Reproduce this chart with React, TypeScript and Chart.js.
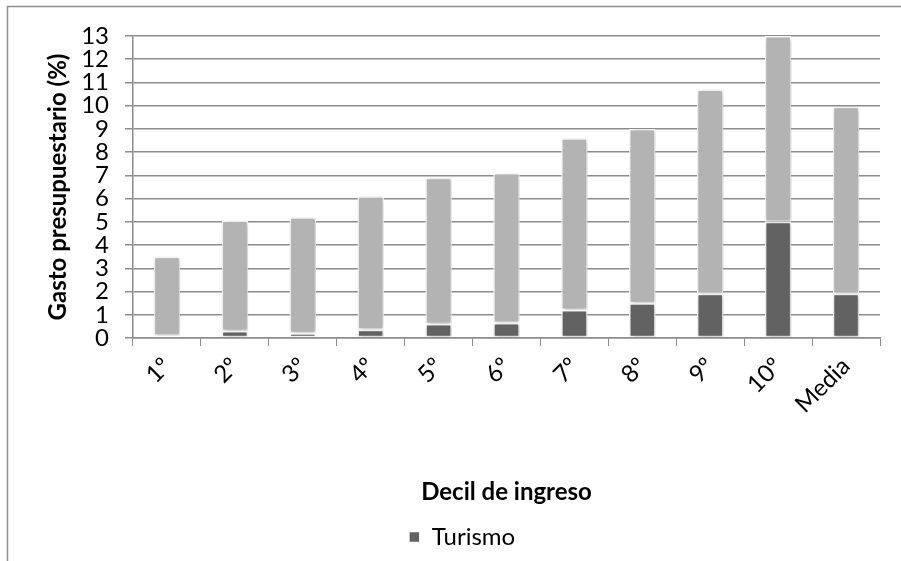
import React, { useEffect, useRef } from "react";
import { Chart, registerables } from "chart.js";

Chart.register(...registerables);

const categories = ["1º", "2º", "3º", "4º", "5º", "6º", "7º", "8º", "9º", "10º", "Media"];
const turismo = [0.1, 0.3, 0.2, 0.35, 0.6, 0.65, 1.2, 1.5, 1.9, 5.0, 1.9];
const resto = [3.4, 4.75, 5.0, 5.75, 6.3, 6.45, 7.4, 7.5, 8.8, 8.0, 8.05];
const yTicks = [0, 1, 2, 3, 4, 5, 6, 7, 8, 9, 10, 11, 12, 13];

const FONT = "Lato, 'Open Sans', sans-serif";

const framePlugin = {
  id: "frame",
  beforeDraw(chart: any) {
    const ctx = chart.ctx;
    ctx.save();
    ctx.fillStyle = "#fff";
    ctx.fillRect(0, 0, chart.width, chart.height);
    ctx.strokeStyle = "#8e8e8e";
    ctx.lineWidth = 1.5;
    ctx.beginPath();
    ctx.moveTo(7.5, chart.height + 2);
    ctx.lineTo(7.5, 6.5);
    ctx.lineTo(chart.width + 2, 6.5);
    ctx.stroke();
    ctx.restore();
  },
};

const shadowPlugin = {
  id: "barShadow",
  beforeDatasetsDraw(chart: any) {
    const ctx = chart.ctx;
    ctx.save();
    ctx.shadowColor = "rgba(0,0,0,0.28)";
    ctx.shadowBlur = 5;
    ctx.shadowOffsetX = 1;
    ctx.shadowOffsetY = 1;
  },
  afterDatasetsDraw(chart: any) {
    chart.ctx.restore();
  },
};

export default function App() {
  const ref = useRef<HTMLCanvasElement | null>(null);

  useEffect(() => {
    if (!ref.current) return;
    const chart = new Chart(ref.current, {
      type: "bar",
      data: {
        labels: categories,
        datasets: [
          {
            label: "Turismo",
            data: turismo,
            backgroundColor: "#626262",
            borderColor: "#ffffff",
            borderWidth: 1.5,
            borderSkipped: false,
            categoryPercentage: 1,
            barPercentage: 0.39,
          },
          {
            label: "Resto",
            data: resto,
            backgroundColor: "#b3b3b3",
            borderColor: "#ffffff",
            borderWidth: 1.5,
            borderSkipped: false,
            categoryPercentage: 1,
            barPercentage: 0.39,
          },
        ],
      },
      options: {
        responsive: false,
        animation: false,
        devicePixelRatio: 1,
        layout: { padding: { left: 44, right: 21, top: 36, bottom: 2 } },
        plugins: {
          tooltip: { enabled: false },
          legend: {
            position: "bottom",
            labels: {
              filter: (item: any) => item.text === "Turismo",
              boxWidth: 11,
              boxHeight: 11,
              color: "#000",
              font: { family: FONT, size: 24 },
              padding: 8,
            },
          },
        },
        scales: {
          x: {
            stacked: true,
            afterFit: (scale: any) => {
              scale.height = 179;
            },
            grid: {
              offset: true,
              drawOnChartArea: false,
              drawTicks: true,
              tickLength: 8,
              color: "#8c8c8c",
            },
            border: { color: "#8c8c8c", width: 1.5 },
            ticks: {
              color: "#000",
              font: { family: FONT, size: 24 },
              maxRotation: 45,
              minRotation: 45,
              padding: 6,
            },
            title: {
              display: true,
              text: "Decil de ingreso",
              color: "#000",
              font: { family: FONT, size: 24, weight: "bold" },
              padding: { top: 0, bottom: 10 },
            },
          },
          y: {
            stacked: true,
            min: 0,
            max: 13,
            afterFit: (scale: any) => {
              scale.width = 89;
            },
            afterBuildTicks: (scale: any) => {
              scale.ticks = yTicks.map((v) => ({ value: v }));
            },
            grid: {
              color: "#8c8c8c",
              lineWidth: 1.5,
              tickLength: 8,
            },
            border: { color: "#8c8c8c", width: 1.5 },
            ticks: {
              color: "#000",
              font: { family: FONT, size: 24 },
              padding: 16,
              autoSkip: false,
            },
            title: {
              display: true,
              text: "Gasto presupuestario (%)",
              color: "#000",
              font: { family: FONT, size: 24, weight: "bold" },
              padding: { top: 0, bottom: 0 },
            },
          },
        },
      },
      plugins: [framePlugin, shadowPlugin],
    } as any);
    return () => chart.destroy();
  }, []);

  return (
    <div style={{ position: "fixed", left: 0, top: 0, width: 901, height: 561 }}>
      <canvas ref={ref} width={901} height={561} style={{ display: "block", width: 901, height: 561 }} />
    </div>
  );
}
